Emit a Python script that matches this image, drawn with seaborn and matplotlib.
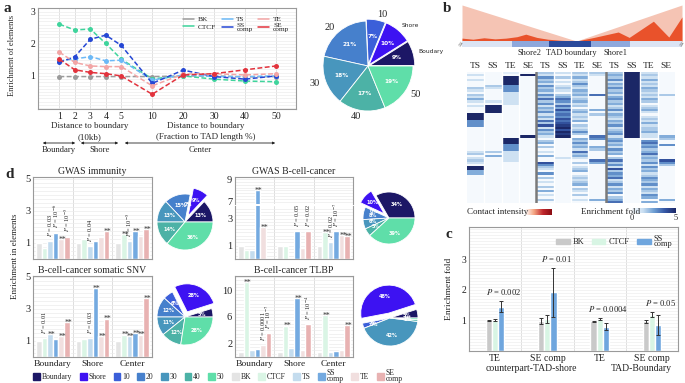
import numpy as np
import pandas as pd
import matplotlib
matplotlib.use("Agg")
import matplotlib.pyplot as plt
import matplotlib.transforms as mtransforms
import seaborn as sns
from matplotlib.colors import LinearSegmentedColormap
from matplotlib.patches import Patch
from matplotlib.lines import Line2D
from matplotlib.ticker import MultipleLocator, FixedLocator

# ---------------- data ----------------
# panel a : enrichment vs distance to boundary
dist_labels = ["1", "2", "3", "4", "5", "10", "20", "30", "40", "50"]
a_bk = [0.98, 0.98, 0.98, 0.98, 0.98, 0.98, 1.00, 1.00, 0.97, 0.98]
a_ctcf = [2.61, 2.43, 2.46, 2.01, 1.52, 0.91, 1.00, 0.90, 0.84, 0.82]
a_ts = [1.47, 1.53, 1.60, 1.47, 1.49, 0.87, 1.03, 0.98, 0.98, 1.00]
a_ss = [1.42, 1.60, 2.14, 2.27, 1.95, 0.77, 1.18, 0.98, 0.90, 1.00]
a_te = [1.74, 1.42, 1.31, 1.29, 1.29, 0.69, 1.06, 1.07, 1.03, 1.07]
a_se = [1.52, 1.19, 1.11, 1.07, 1.00, 0.43, 1.03, 1.07, 1.19, 1.31]
a_series = ["BK", "CTCF", "TS", "SS comp", "TE", "SE comp"]

# pies
pie_names = ["Boundary", "Shore", "10", "20", "30", "40", "50"]
pie_a_labels = ["Boudary", "Shore", "10", "20", "30", "40", "50"]
pie_a = [9, 10, 7, 21, 18, 17, 19]
pie_imm = [13, 9, 0, 15, 13, 14, 36]
pie_snv = [5, 28, 6, 12, 11, 12, 28]
pie_gbc = [34, 10, 0, 8, 6, 5, 39]
pie_tlbp = [5, 48, 3, 0, 42, 1, 1]

# panel b : contact profile and enrichment heatmap (digits 0-9 -> 0-5 fold)
prof_x = [0, 0.05, 0.1, 0.15, 0.2, 0.25, 0.29, 0.34, 0.39, 0.45, 0.52, 0.6, 0.71, 0.76, 0.87, 0.94, 1.0]
prof_red = [0.08, 0.05, 0.09, 0.06, 0.08, 0.12, 0.19, 0.1, 0.05, 0.02, 0.0, 0.1, 0.25, 0.1, 0.55, 0.11, 0.67]
env_x = [0, 0.52, 1.0]
env_y = [1.0, 0.0, 1.0]
seg_edges = [0, 0.227, 0.395, 0.586, 0.764, 1.0]
hm_tracks = ["TS", "SS", "TE", "SE"]
hm_shore2 = [
    "020200032032420200099955500000000000230232099440000000000000",
    "000000320000020999900000000000000000304000000000000000000000",
    "109999555222222000000000000000999555222220000000000000000000",
    "090000000000000000000000000009000000000000000000000000000000",
]
hm_tad = [
    "325342534253635243524263725342034030204007532050302030402030",
    "203020232034653647565767897989000000000200000000000000000000",
    "324235324342342303423240323530435342634203023402323403203020",
    "320000000060000004030000000006500043000064000000000000000040",
]
hm_shore1 = [
    "343524353424534235243243523452453425340363527354623524350346",
    "999999999999999999999999999999000000000000000000000000000000",
    "232423243232430234202324233422056453463435253423543524325404",
    "000000000030000000000000000004300500000075300000000000000040",
]

# panel c
c_cats = ["TE|shore", "SE comp|shore", "TE|boundary", "SE comp|boundary"]
c_ticklabels = ["TE", "SE comp", "TE", "SE comp"]
c_series = ["BK", "CTCF", "SS comp"]
c_bk = [1.00, 0.97, 0.97, 0.97]
c_ctcf = [1.02, 1.03, 1.05, 1.18]
c_ss = [1.45, 1.92, 0.80, 0.84]
c_bk_err = [0.02, 0.10, 0.01, 0.05]
c_ctcf_err = [0.03, 0.13, 0.03, 0.08]
c_ss_err = [0.19, 0.80, 0.10, 0.33]
c_pvals = ["$P$ = 0.002", "$P$ = 0.01", "$P$ = 0.0004", "$P$ = 0.05"]

# panel d
d_cats = ["Boundary", "Shore", "Center"]
d_series = ["BK", "CTCF", "TS", "SS comp", "TE", "SE comp"]
d_imm = {"BK": [1.0, 1.0, 1.0], "CTCF": [0.70, 1.25, 1.55], "TS": [1.10, 0.80, 1.10],
         "SS comp": [1.65, 1.15, 1.75], "TE": [1.25, 1.35, 1.45], "SE comp": [1.40, 1.75, 1.85]}
d_snv = {"BK": [1.0, 1.0, 1.0], "CTCF": [1.20, 1.15, 1.40], "TS": [1.45, 1.20, 1.30],
         "SS comp": [1.10, 4.30, 1.50], "TE": [1.30, 1.30, 1.40], "SE comp": [2.20, 2.40, 3.65]}
d_gbc = {"BK": [1.0, 0.95, 0.95], "CTCF": [0.65, 1.00, 2.00], "TS": [0.70, 0.0, 1.25],
         "SS comp": [8.00, 2.05, 2.05], "TE": [2.40, 0.85, 1.80], "SE comp": [0.0, 2.10, 1.70]}
d_tlbp = {"BK": [0.8, 0.8, 0.8], "CTCF": [11.2, 4.7, 6.3], "TS": [1.0, 1.3, 0.7],
          "SS comp": [1.2, 8.8, 0.9], "TE": [1.8, 1.0, 1.0], "SE comp": [3.6, 5.0, 4.8]}
notes_imm = [(0, 2, "$P$ = 0.03"), (0, 3, "$P$ = 10$^{-6}$"), (0, 4, "**"), (0, 5, "$P$ = 10$^{-5}$"),
             (1, 2, "$P$ = 0.04"), (1, 5, "**"),
             (2, 1, "**"), (2, 2, "$P$ = 10$^{-5}$"), (2, 3, "**"), (2, 5, "**")]
notes_snv = [(0, 1, "$P$ = 0.01"), (0, 2, "**"), (0, 4, "**"), (0, 5, "**"),
             (1, 2, "$P$ = 0.03"), (1, 3, "**"), (1, 4, "**"), (1, 5, "**"),
             (2, 1, "**"), (2, 2, "**"), (2, 3, "**"), (2, 4, "**"), (2, 5, "**")]
notes_gbc = [(0, 3, "**"), (0, 4, "**"),
             (1, 3, "$P$ = 0.05"), (1, 5, "$P$ = 0.02"),
             (2, 1, "**"), (2, 2, "$P$ = 0.02"), (2, 3, "$P$ = 10$^{-7}$"), (2, 4, "**"), (2, 5, "**")]
notes_tlbp = [(0, 1, "**"), (0, 4, "$P$ = 0.0001"), (0, 5, "$P$ = 10$^{-7}$"),
              (1, 1, "**"), (1, 3, "**"), (1, 5, "$P$ = 10$^{-4}$"),
              (2, 1, "**"), (2, 5, "**")]

# ---------------- style ----------------
sns.set_theme(style="white")
plt.rcParams["font.family"] = ["Liberation Serif", "DejaVu Serif"]
plt.rcParams["mathtext.fontset"] = "stix"

line_colors = {"BK": "#9b9b9b", "CTCF": "#3fd49c", "TS": "#6cb9f7", "SS comp": "#2547d4",
               "TE": "#f2a5a5", "SE comp": "#e2333d"}
pie_colors = ["#1c1766", "#3d12f2", "#3b5fd9", "#4680cc", "#4896bd", "#4cb2a6", "#5fdea9"]
d_colors = {"BK": "#e4e4e4", "CTCF": "#daf5e5", "TS": "#c4dcee", "SS comp": "#74aae0",
            "TE": "#f1dfdf", "SE comp": "#e8b2b2"}
c_colors = {"BK": "#c9c9c9", "CTCF": "#d8f5e4", "SS comp": "#6fa6de"}
SPINE = "#9a9a9a"

W, H = 685, 383
fig = plt.figure(figsize=(W / 100, H / 100), dpi=100)


def add_ax(x0, y0, x1, y1):
    return fig.add_axes([x0 / W, 1 - y1 / H, (x1 - x0) / W, (y1 - y0) / H])


def ftext(x, y, s, **kw):
    return fig.text(x / W, 1 - y / H, s, **kw)


def style_box(ax):
    for sp in ax.spines.values():
        sp.set_color(SPINE)
        sp.set_linewidth(0.8)
    ax.tick_params(length=0, pad=2, colors="#222222")


# ---------------- panel a ----------------
a_xpos = [0, 1, 2, 3, 4, 6, 8, 10, 12, 14]
df_a = pd.DataFrame({
    "pos": np.tile(a_xpos, 6),
    "val": np.concatenate([a_bk, a_ctcf, a_ts, a_ss, a_te, a_se]),
    "series": np.repeat(a_series, len(a_xpos)),
})
ax_a = add_ax(38, 8, 296, 109)
sns.lineplot(data=df_a, x="pos", y="val", hue="series", hue_order=a_series, palette=line_colors,
             marker="o", markersize=3.6, markeredgewidth=0, linewidth=1.1, legend=False, ax=ax_a)
for ln in ax_a.lines:
    ln.set_dashes([3.2, 1.6])
ax_a.set_xlim(-1.38, 15.29)
ax_a.set_ylim(-0.03, 3.115)
ax_a.set_xticks(a_xpos, dist_labels)
ax_a.set_yticks([1, 2, 3])
ax_a.yaxis.set_minor_locator(MultipleLocator(0.1))
ax_a.grid(axis="y", which="both", color="#ededed", lw=0.5)
ax_a.grid(axis="x", which="major", color="#dcdcdc", lw=0.6)
ax_a.set_axisbelow(True)
ax_a.set_xlabel("")
ax_a.set_ylabel("")
style_box(ax_a)
ax_a.tick_params(labelsize=7)
ax_a.legend([Line2D([0], [0], color=line_colors[s], lw=1.1) for s in a_series],
            ["BK", "CTCF", "TS", "SS\ncomp", "TE", "SE\ncomp"],
            ncol=3, loc="upper right", bbox_to_anchor=(1.0, 0.985), fontsize=5.3, frameon=False,
            handlelength=1.5, columnspacing=0.8, labelspacing=0.15, handletextpad=0.5)
for t in ax_a.get_legend().get_texts():
    t.set_linespacing(0.7)
ftext(12, 55, "Enrichment of elements", rotation=90, ha="center", va="center", fontsize=6)
ftext(90, 126, "Distance to boundary", ha="center", va="center", fontsize=6.5)
ftext(90, 137, "(10kb)", ha="center", va="center", fontsize=6.5)
ftext(206, 126, "Distance to boundary", ha="center", va="center", fontsize=6.5)
ftext(206, 137, "(Fraction to TAD length %)", ha="center", va="center", fontsize=6.5)
for (x0, x1, lab) in [(40, 78, "Boundary"), (78, 121, "Shore"), (122, 278, "Center")]:
    fig.add_artist(matplotlib.patches.FancyArrowPatch(
        (x0 / W, 1 - 143 / H), (x1 / W, 1 - 143 / H), transform=fig.transFigure,
        arrowstyle="<|-|>", mutation_scale=3.5, lw=0.6, color="#222222"))
    ftext((x0 + x1) / 2, 150, lab, ha="center", va="center", fontsize=6.2)
ftext(4, 8, "a", fontsize=11, fontweight="bold", va="center")


# ---------------- pies ----------------
def draw_pie(cx, cy, r, vals, explode, labels=None, pct_size=3.6, ext=1.6):
    e = r * ext
    ax = add_ax(cx - e, cy - e, cx + e, cy + e)
    total = float(sum(vals))
    res = ax.pie(vals, colors=pie_colors, startangle=0, counterclock=True, explode=explode,
                 labels=labels, labeldistance=1.13,
                 autopct=lambda p: f"{p * total / 100:.0f}%", pctdistance=0.62,
                 wedgeprops=dict(edgecolor="white", linewidth=0.6),
                 textprops=dict(fontsize=pct_size))
    for t in res[2]:
        t.set_color("white")
        t.set_fontfamily("DejaVu Sans")
        t.set_fontsize(pct_size)
        t.set_fontweight("bold")
    ax.set_xlim(-ext, ext)
    ax.set_ylim(-ext, ext)
    ax.set_aspect("equal")
    ax.axis("off")
    return res


res_a = draw_pie(368, 66, 45, pie_a, [0.04, 0.04, 0.04, 0, 0, 0, 0], labels=pie_a_labels,
                 pct_size=4.2, ext=1.4)
for t, lab in zip(res_a[1], pie_a_labels):
    if lab in ("Shore", "Boudary"):
        t.set_fontsize(4.3)
        t.set_fontfamily("DejaVu Sans")
    else:
        t.set_fontsize(7.5)

draw_pie(185, 222, 28, pie_imm, [0, 0.25, 0, 0, 0, 0, 0])
draw_pie(185, 317, 28, pie_snv, [0, 0.2, 0, 0, 0, 0, 0])
draw_pie(389, 218, 26, pie_gbc, [0, 0.25, 0, 0, 0, 0, 0])
draw_pie(390, 318, 28, pie_tlbp, [0, 0.18, 0, 0, 0, 0, 0])

# ---------------- panel b ----------------
ax_p = add_ax(462, 3, 682, 48)
ax_p.fill_between(env_x, 0, env_y, color="#f5c4b4", lw=0)
ax_p.fill_between(prof_x, 0, prof_red, color="#e9522b", lw=0)
ax_p.barh(y=-0.085, width=np.diff(seg_edges), left=seg_edges[:-1], height=0.165,
          color=["#dbe4f4", "#8ea8dc", "#2b4a9b", "#8ea8dc", "#dbe4f4"], lw=0)
ax_p.set_xlim(0, 1)
ax_p.set_ylim(-0.194, 1.055)
ax_p.axis("off")
for xx in (461, 682):
    ftext(xx, 44, "≈", ha="center", va="center", fontsize=5, rotation=60, color="#777777",
          family="DejaVu Sans")
for xx, lab in [(529, "Shore2"), (571, "TAD boundary"), (615, "Shore1")]:
    ftext(xx, 53, lab, ha="center", va="center", fontsize=6)

hm_all = hm_shore2 + hm_tad + hm_shore1
hm_mat = np.array([[int(ch) for ch in s.ljust(60, "0")[:60]] for s in hm_all]).T * 5 / 9
blue_cmap = LinearSegmentedColormap.from_list(
    "enr", ["#f5f9fd", "#c9def1", "#6e9fd3", "#3557a5", "#1b2766"])
ax_h = add_ax(467, 72, 675, 203)
cax_b = add_ax(632, 208, 676, 213)
sns.heatmap(hm_mat, ax=ax_h, cmap=blue_cmap, vmin=0, vmax=5, cbar_ax=cax_b,
            cbar_kws={"orientation": "horizontal", "ticks": [0, 5]},
            xticklabels=hm_tracks * 3, yticklabels=False)
ax_h.xaxis.set_ticks_position("top")
ax_h.tick_params(axis="x", length=0, labelsize=6.8, pad=1.5, rotation=0,
                 labeltop=True, labelbottom=False)
for xv in range(1, 12):
    if xv in (4, 8):
        ax_h.axvline(xv, color="#7a7a7a", lw=1.8)
    else:
        ax_h.axvline(xv, color="white", lw=1.0)
cax_b.tick_params(length=0, labelsize=6, pad=1)
cb = ax_h.collections[0].colorbar
if cb is not None:
    cb.outline.set_visible(False)
red_cmap = LinearSegmentedColormap.from_list("ci", ["#ffffff", "#f4a582", "#c0272d", "#8b0d13"])
ax_r = add_ax(525, 209, 552, 215)
ax_r.imshow(np.linspace(0, 1, 64)[None, :], aspect="auto", cmap=red_cmap)
ax_r.axis("off")
ftext(467, 212, "Contact intensity", fontsize=6.5, va="center")
ftext(581, 212, "Enrichment fold", fontsize=6.5, va="center")
ftext(443, 9, "b", fontsize=11, fontweight="bold", va="center")

# ---------------- panel c ----------------
df_c = pd.DataFrame({
    "cat": np.tile(c_cats, 3),
    "series": np.repeat(c_series, 4),
    "val": np.concatenate([c_bk, c_ctcf, c_ss]),
})
ax_c = add_ax(469, 227, 678, 351)
sns.barplot(data=df_c, x="cat", y="val", hue="series", order=c_cats, hue_order=c_series,
            palette=c_colors, width=0.35, saturation=1, errorbar=None, legend=False, ax=ax_c)
for s_idx, errs in enumerate([c_bk_err, c_ctcf_err, c_ss_err]):
    for ci, bar in enumerate(ax_c.containers[s_idx]):
        ax_c.errorbar(bar.get_x() + bar.get_width() / 2, bar.get_height(), yerr=errs[ci],
                      fmt="none", ecolor="#333333", elinewidth=0.7, capsize=1.6, capthick=0.7)
for ci in range(4):
    bar = ax_c.containers[2][ci]
    top = max(c_bk[ci] + c_bk_err[ci], c_ctcf[ci] + c_ctcf_err[ci], c_ss[ci] + c_ss_err[ci])
    ax_c.annotate(c_pvals[ci], (bar.get_x() + bar.get_width() / 2, top), xytext=(2, 3),
                  textcoords="offset points", ha="center", va="bottom", fontsize=6.2)
ax_c.set_xlim(-0.5, 3.5)
ax_c.set_ylim(0, 4.05)
ax_c.set_yticks([1, 2, 3])
ax_c.set_xticks(range(4), c_ticklabels)
ax_c.yaxis.set_minor_locator(MultipleLocator(0.1))
ax_c.grid(axis="y", which="both", color="#efefef", lw=0.5)
ax_c.xaxis.set_minor_locator(FixedLocator([0.5, 1.5, 2.5]))
ax_c.grid(axis="x", which="minor", color="#dadada", lw=0.6)
ax_c.set_axisbelow(True)
ax_c.set_xlabel("")
ax_c.set_ylabel("Enrichment fold", fontsize=6.8, labelpad=4)
style_box(ax_c)
ax_c.tick_params(labelsize=7)
trans_c = mtransforms.blended_transform_factory(ax_c.transData, ax_c.transAxes)
ax_c.text(0.7, -0.145, "counterpart-TAD-shore", transform=trans_c, ha="center", va="center", fontsize=7)
ax_c.text(2.8, -0.145, "TAD-Boundary", transform=trans_c, ha="center", va="center", fontsize=7)
ax_c.legend([Patch(color=c_colors[s]) for s in c_series], ["BK", "CTCF", "SS\ncomp"], ncol=3,
            loc="upper right", bbox_to_anchor=(1.01, 1.0), fontsize=6, frameon=False,
            handlelength=1.6, handleheight=0.5, columnspacing=0.9, handletextpad=0.4)
for t in ax_c.get_legend().get_texts():
    t.set_linespacing(0.6)
ftext(446, 234, "c", fontsize=11, fontweight="bold", va="center")


# ---------------- panel d ----------------
def bar_panel(ax, vals, ylim, yticks, show_x, minor=0.25):
    df = pd.DataFrame({
        "cat": np.tile(d_cats, 6),
        "series": np.repeat(d_series, 3),
        "val": np.concatenate([vals[s] for s in d_series]),
    })
    sns.barplot(data=df, x="cat", y="val", hue="series", order=d_cats, hue_order=d_series,
                palette=d_colors, width=0.85, saturation=1, errorbar=None, legend=False, ax=ax)
    ax.set_xlim(-0.5, 2.5)
    ax.set_ylim(*ylim)
    ax.set_yticks(yticks)
    ax.yaxis.set_minor_locator(MultipleLocator(minor))
    ax.grid(axis="y", which="both", color="#ececec", lw=0.5)
    ax.xaxis.set_minor_locator(FixedLocator([0.5, 1.5]))
    ax.grid(axis="x", which="minor", color="#d8d8d8", lw=0.6)
    ax.set_axisbelow(True)
    ax.set_xlabel("")
    ax.set_ylabel("")
    style_box(ax)
    ax.tick_params(axis="y", labelsize=7.5)
    ax.tick_params(axis="x", labelsize=6.8, labelbottom=show_x)


def annotate_bars(notes, vals, ax_lo, ax_hi=None, split=None):
    for cat, s, txt in notes:
        h = vals[d_series[s]][cat]
        ax = ax_hi if (ax_hi is not None and h > split) else ax_lo
        bar = ax.containers[s][cat]
        x = bar.get_x() + bar.get_width() / 2
        if txt == "**":
            ax.annotate("**", (x, h), xytext=(1, -0.5), textcoords="offset points",
                        ha="center", va="center", fontsize=5.5, color="#333333",
                        annotation_clip=False)
        else:
            ax.annotate(txt, (x, h), xytext=(0, 3), textcoords="offset points", rotation=90,
                        ha="center", va="bottom", fontsize=4.6, annotation_clip=False)


ax_d1 = add_ax(33, 177, 152, 259)
bar_panel(ax_d1, d_imm, (0, 5.12), [1, 3, 5], False)
ax_d1.set_title("GWAS immunity", fontsize=7, pad=2)
annotate_bars(notes_imm, d_imm, ax_d1)

ax_d2 = add_ax(33, 276, 152, 357)
bar_panel(ax_d2, d_snv, (0, 5.05), [1, 3, 5], True)
ax_d2.set_title("B-cell-cancer somatic SNV", fontsize=7, pad=2)
annotate_bars(notes_snv, d_snv, ax_d2)

ax_d3h = add_ax(235, 177, 353, 204)
ax_d3l = add_ax(235, 206, 353, 259)
bar_panel(ax_d3h, d_gbc, (6.8, 9.18), [7, 9], False)
bar_panel(ax_d3l, d_gbc, (0, 3.95), [1, 3], False)
ax_d3h.spines["bottom"].set_visible(False)
ax_d3l.spines["top"].set_visible(False)
ax_d3h.set_title("GWAS B-cell-cancer", fontsize=7, pad=2)
annotate_bars(notes_gbc, d_gbc, ax_d3l, ax_d3h, split=4)

ax_d4 = add_ax(235, 276, 353, 357)
bar_panel(ax_d4, d_tlbp, (0, 12.15), [2, 6, 10], True, minor=0.5)
ax_d4.set_title("B-cell-cancer TLBP", fontsize=7, pad=2)
annotate_bars(notes_tlbp, d_tlbp, ax_d4)

ftext(15, 256, "Enrichment in elements", rotation=90, ha="center", va="center", fontsize=6.5)
ftext(5, 175, "d", fontsize=11, fontweight="bold", va="center")

# bottom legend
leg_handles = [Patch(color=c) for c in pie_colors] + [Patch(color=d_colors[s]) for s in d_series]
leg_labels = pie_names + ["BK", "CTCF", "TS", "SS\ncomp", "TE", "SE\ncomp"]
lg = fig.legend(leg_handles, leg_labels, loc="center", bbox_to_anchor=(218 / W, 1 - 376 / H),
                ncol=13, fontsize=5.5, frameon=False, handlelength=0.9, handleheight=0.9,
                handletextpad=0.25, columnspacing=0.95)
for t in lg.get_texts():
    t.set_linespacing(0.6)

fig.savefig("out.png", dpi=100)
